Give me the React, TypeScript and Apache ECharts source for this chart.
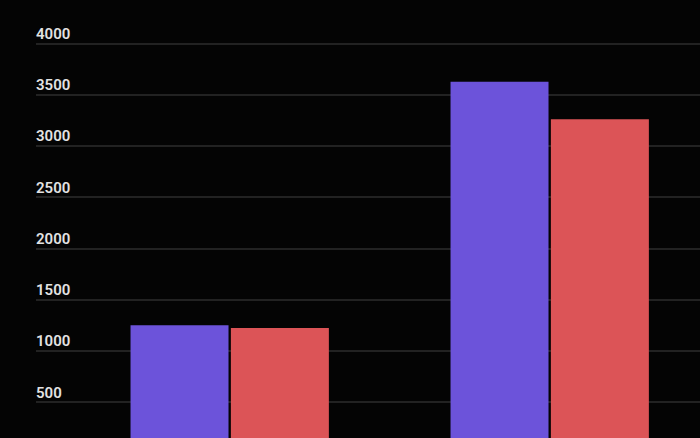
import React, { useEffect, useRef } from "react";
import * as echarts from "echarts";

const categories = ["A", "B"];
const seriesPurple = [1251, 3624];
const seriesRed = [1224, 3260];
const yMin = 0;
const yMax = 4000;
const yInterval = 500;

export default function App() {
  const ref = useRef<HTMLDivElement>(null);
  useEffect(() => {
    if (!ref.current) return;
    const chart = echarts.init(ref.current, undefined, { renderer: "svg" });
    chart.setOption({
      animation: false,
      backgroundColor: "#040404",
      grid: [
        { left: 36, right: 0, top: 43.3, bottom: 16.5 },
        { left: 69.7, right: 10.3, top: 43.3, bottom: 16.5 },
      ],
      xAxis: [
        { gridIndex: 0, type: "value", show: false, min: 0, max: 1 },
        {
          gridIndex: 1,
          type: "category",
          data: categories,
          axisLine: { show: false },
          axisTick: { show: false },
          axisLabel: { show: false },
        },
      ],
      yAxis: [
        {
          gridIndex: 0,
          type: "value",
          min: yMin,
          max: yMax,
          interval: yInterval,
          axisLine: { show: false },
          axisTick: { show: false },
          splitLine: { lineStyle: { color: "#2c2c2c", width: 1.5 } },
          axisLabel: {
            inside: true,
            margin: 0,
            align: "left",
            verticalAlign: "bottom",
            padding: [0, 0, 2, 0],
            color: "#e2e2e2",
            fontSize: 15,
            fontWeight: 600,
            fontFamily: "Roboto",
            formatter: (v: number) => (v === 0 ? "" : String(v)),
          },
        },
        {
          gridIndex: 1,
          type: "value",
          min: yMin,
          max: yMax,
          interval: yInterval,
          show: false,
          splitLine: { show: false },
        },
      ],
      series: [
        {
          type: "bar",
          xAxisIndex: 1,
          yAxisIndex: 1,
          data: seriesPurple,
          barWidth: 98,
          barGap: "2.4%",
          itemStyle: { color: "#6c53da" },
        },
        {
          type: "bar",
          xAxisIndex: 1,
          yAxisIndex: 1,
          data: seriesRed,
          barWidth: 98,
          barGap: "2.4%",
          itemStyle: { color: "#dc5457" },
        },
      ],
    });
    return () => chart.dispose();
  }, []);
  return (
    <div
      style={{
        position: "fixed",
        left: 0,
        top: 0,
        width: 700,
        height: 438,
        overflow: "hidden",
        background: "#040404",
      }}
    >
      <div ref={ref} style={{ width: 720, height: 470 }} />
    </div>
  );
}
